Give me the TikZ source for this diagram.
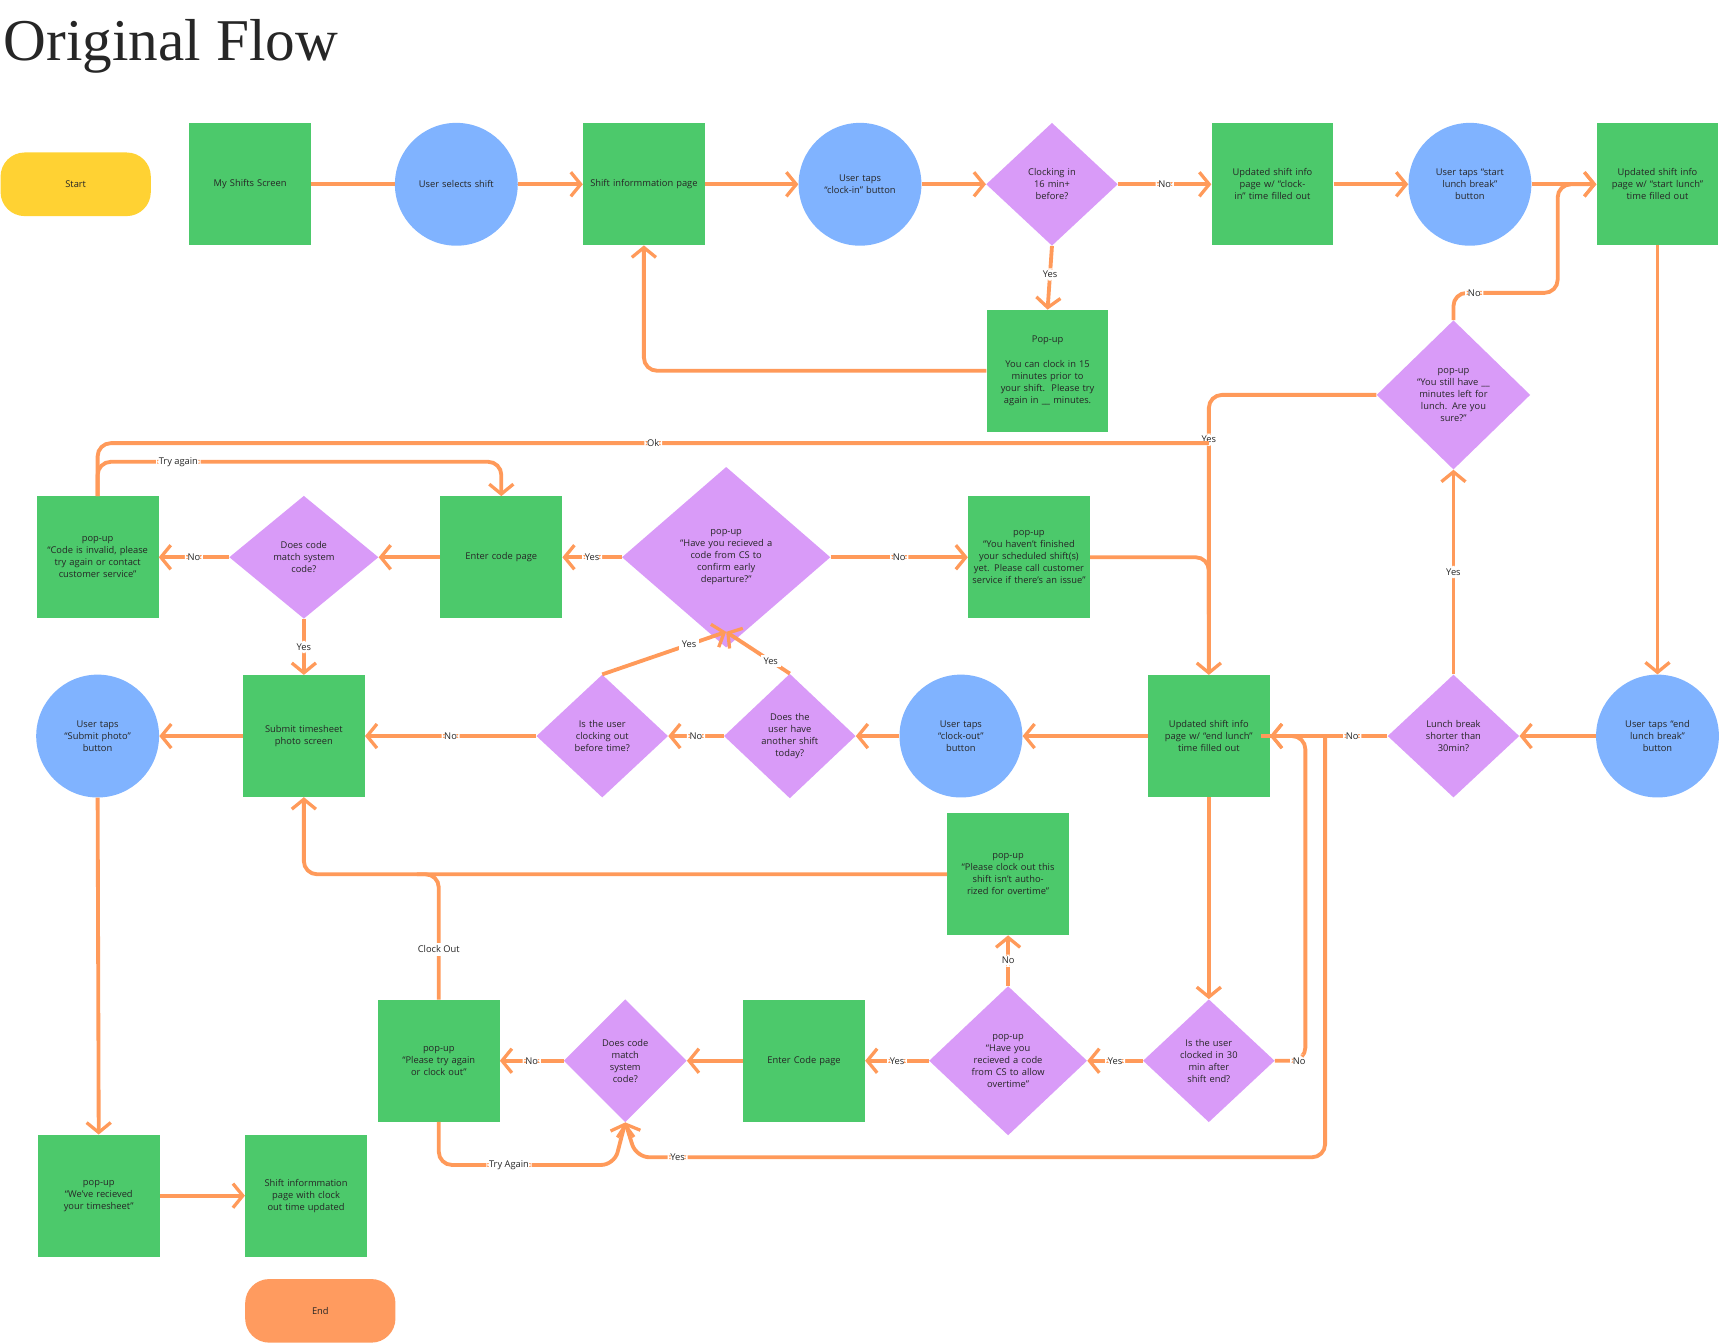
\documentclass[tikz,border=0pt]{standalone}
\usepackage{fontspec}
\setmainfont{Open Sans}
\newfontfamily\titlefont{Liberation Serif}
\usetikzlibrary{shapes.geometric,arrows.meta}
\definecolor{gr}{HTML}{4CC96B}
\definecolor{bl}{HTML}{80B3FF}
\definecolor{pu}{HTML}{D99BF8}
\definecolor{ye}{HTML}{FFD233}
\definecolor{orn}{HTML}{FF9B5F}
\definecolor{ln}{HTML}{FF9A5A}
\begin{document}
\begin{tikzpicture}[x=1pt,y=-1pt,
  every node/.style={font=\fontsize{8.5}{11}\selectfont,align=center,text=black!85},
  box/.style={fill=gr,minimum width=111,minimum height=111,inner sep=2,text width=104},
  circ/.style={circle,fill=bl,minimum size=112,inner sep=2,text width=80},
  dia/.style={diamond,fill=pu,inner sep=0,minimum width=#1,minimum height=112,text width=0.6*#1},
  dia/.default=120,
  term/.style={rounded corners=22,minimum width=137,minimum height=58,fill=#1},
  e/.style={draw=ln,line width=3.5pt,rounded corners=12,-{Straight Barb[length=9pt,width=22pt,line width=3pt]}},
  p/.style={draw=ln,line width=3.5pt,rounded corners=12},
  lb/.style={fill=white,inner sep=2.5}]
\useasboundingbox (0,0) rectangle (1568,1225);
\node[anchor=west,font=\fontsize{54}{60}\titlefont] (title) at (0,42) {Original Flow};
\node[term=ye] (start) at (69,168) {Start};
\node[box] (my) at (228,168) {My Shifts Screen};
\node[circ] (sel) at (416,168) {User selects shift};
\node[box] (sip) at (587,168) {Shift informmation page};
\node[circ] (cin) at (784,168) {User taps\\``clock-in'' button};
\node[dia=120] (d16) at (959,168) {Clocking in\\16 min+\\before?};
\node[box] (uci) at (1160,168) {Updated shift info page w/ ``clock-in'' time filled out};
\node[circ] (slb) at (1340,168) {User taps ``start\\lunch break''\\button};
\node[box] (usl) at (1511,168) {Updated shift info page w/ ``start lunch'' time filled out};
\node[box] (p15) at (955,338) {Pop-up\\[12pt]You can clock in 15 minutes prior to your shift.\ \ Please try again in \_\_ minutes.};
\node[dia=140,minimum height=136] (still) at (1325,360) {pop-up\\``You still have \_\_\\minutes left for\\lunch. Are you\\sure?''};
\node[box] (inv) at (89,508) {pop-up\\``Code is invalid, please try again or contact customer service''};
\node[dia=136] (dm1) at (277,508) {Does code\\match system\\code?};
\node[box] (ecp) at (457,508) {Enter code page};
\node[dia=190,minimum height=136] (hyr) at (662,508) {pop-up\\``Have you recieved a\\code from CS to\\confirm early\\departure?''};
\node[box] (hnf) at (938,508) {pop-up\\``You haven't finished your scheduled shift(s) yet. Please call customer service if there's an issue''};
\node[circ] (sph) at (89,671) {User taps\\``Submit photo''\\button};
\node[box] (sts) at (277,671) {Submit timesheet\\photo screen};
\node[dia=120] (cob) at (549,671) {Is the user\\clocking out\\before time?};
\node[dia=120] (ano) at (720,671) {Does the\\user have\\another shift\\today?};
\node[circ] (cout) at (876,671) {User taps\\``clock-out''\\button};
\node[box] (uel) at (1102,671) {Updated shift info page w/ ``end lunch'' time filled out};
\node[dia=120] (lbs) at (1325,671) {Lunch break\\shorter than\\30min?};
\node[circ] (elb) at (1511,671) {User taps ``end\\lunch break''\\button};
\node[box] (pov) at (919,797) {pop-up\\``Please clock out this shift isn't authorized for overtime''};
\node[box] (pta) at (400,967) {pop-up\\``Please try again or clock out''};
\node[dia=112] (dm2) at (570,967) {Does code\\match\\system\\code?};
\node[box] (ecp2) at (733,967) {Enter Code page};
\node[dia=144,minimum height=136] (hov) at (919,967) {pop-up\\``Have you\\recieved a code\\from CS to allow\\overtime''};
\node[dia=120] (c30) at (1102,967) {Is the user\\clocked in 30\\min after\\shift end?};
\node[box] (prt) at (90,1090) {pop-up\\``We've recieved your timesheet''};
\node[box] (sic) at (279,1090) {Shift informmation page with clock out time updated};
\node[term=orn] (end) at (292,1195) {End};
% row 1
\draw[p] (my) -- (sel);
\draw[e] (sel) -- (sip);
\draw[e] (sip) -- (cin);
\draw[e] (cin) -- (d16);
\draw[e] (d16) -- node[lb]{No} (uci);
\draw[e] (uci) -- (slb);
\draw[e] (slb) -- (usl);
\draw[e] (d16.south) -- node[lb,pos=0.45]{Yes} (p15.north);
\draw[e] (p15.west) -| (sip.south);
\draw[e] (still.north) |- node[lb,pos=0.6]{No} (1420,267) |- (usl.west);
\draw[e] (usl.south) -- (elb.north);
\draw[e] (elb) -- (lbs);
\draw[e] (lbs.north) -- node[lb]{Yes} (still.south);
\draw[e] (lbs.west) -- node[lb,pos=0.3]{No} (uel.east);
\draw[e] (still.west) -| node[lb,pos=0.58]{Yes} (uel.north);
% row 2
\draw[p] (inv.north) |- node[lb,pos=0.75]{Ok} (1102,404);
\draw[e] (inv.north) |- node[lb,pos=0.6]{Try again} (457,421) -- (ecp.north);
\draw[p] (hnf.east) -| (1102,560);
\draw[e] (hyr) -- node[lb]{Yes} (ecp);
\draw[e] (hyr) -- node[lb]{No} (hnf);
\draw[e] (ecp) -- (dm1);
\draw[e] (dm1) -- node[lb]{No} (inv);
\draw[e] (dm1.south) -- node[lb]{Yes} (sts.north);
% row 3
\draw[e] (uel) -- (cout);
\draw[e] (cout) -- (ano);
\draw[e] (ano) -- node[lb]{No} (cob);
\draw[e] (cob) -- node[lb]{No} (sts);
\draw[e,rounded corners=0] (cob.north) -- node[lb,pos=0.7]{Yes} (662,576);
\draw[e,rounded corners=0] (ano.north) -- node[lb,pos=0.3]{Yes} (662,576);
\draw[e] (sts) -- (sph);
\draw[e] (sph.south) -- (prt.north);
\draw[e] (prt) -- (sic);
% row 4
\draw[e] (uel.south) -- (c30.north);
\draw[e] (c30) -- node[lb]{Yes} (hov);
\draw[e] (hov) -- node[lb]{Yes} (ecp2);
\draw[e] (ecp2) -- (dm2);
\draw[e] (dm2) -- node[lb]{No} (pta);
\draw[e] (hov.north) -- node[lb]{No} (pov.south);
\draw[e] (pov.west) -| (sts.south);
\draw[p] (pta.north) -- node[lb,pos=0.4]{Clock Out} (400,797) -- (380,797);
\draw[e] (pta.south) |- node[lb,pos=0.7]{Try Again} (560,1062) -- (dm2.south);
\draw[e] (c30.east) -- node[lb,pos=0.8]{No} (1190,967) -- (1190,671) -- (uel.east);
\draw[e] (1208,671) -- (1208,1055) -- node[lb,pos=0.94]{Yes} (580,1055) -- (dm2.south);
\draw[p] (1150,671) -- (1208,671);
\end{tikzpicture}
\end{document}
